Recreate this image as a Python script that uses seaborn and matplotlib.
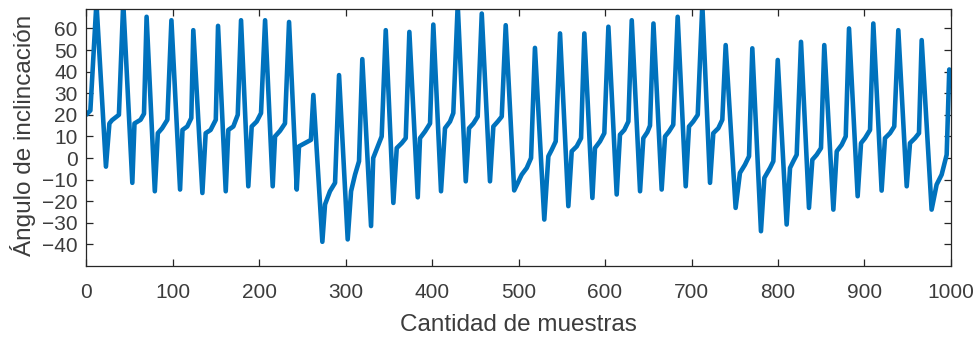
import matplotlib
matplotlib.use("Agg")
import matplotlib.pyplot as plt
import seaborn as sns
import pandas as pd

# Key points (sample index, tilt angle in degrees)
muestras = [
    0, 5, 12, 23, 27, 30, 38, 43, 53.5, 56, 63, 67, 70, 79.5, 83, 88, 94, 98.7,
    108.7, 111.5, 117, 121.7, 124, 134.5, 138.3, 144, 150, 152.6, 161.5, 164.5,
    170.3, 175.4, 179.2, 187.6, 191.5, 197.3, 202.3, 207, 215.8, 218.5, 224.3,
    230, 234.7, 243.6, 246.2, 253.2, 260, 262.8, 273.2, 276.3, 282, 287.9,
    292.5, 302.5, 306.4, 311, 315.6, 319.4, 329.5, 332, 338, 341.8, 346.5,
    355.3, 359.2, 365, 369.6, 373.8, 383.5, 386.1, 391.9, 397.7, 401.5, 410.4,
    415, 420.8, 424.6, 429.7, 439, 442.8, 447.8, 452.8, 457.5, 467, 470.9, 476,
    480.6, 485.2, 495, 503.7, 509.5, 514.5, 519, 529.8, 534.5, 538.4, 543, 548,
    557.6, 561.5, 567.3, 572.3, 576.1, 585.4, 588.4, 594.2, 599.2, 603.9,
    613.5, 617.3, 622.3, 627, 630.9, 640.5, 644.3, 649, 652, 656, 665.5, 669.4,
    674, 678.9, 684, 693.3, 697.1, 702, 707.2, 712.5, 721.4, 725.2, 731, 735.6,
    739.5, 751, 756, 761.8, 766.5, 770.3, 780.3, 784.2, 790.8, 794.6, 799.7,
    810, 813.9, 817.7, 821.6, 826.6, 835.8, 839.7, 844.7, 849.7, 853.5, 864,
    867.9, 873.6, 878.3, 882.1, 892.1, 896, 900.6, 906.4, 910.2, 919.8, 923.7,
    929.5, 934.4, 939.1, 948.8, 952.6, 958.4, 963, 966.1, 977.6, 983.4, 989.2,
    995, 998, 1000,
]
angulo = [
    20, 22, 72, -4, 16, 17.5, 20, 72, -11.5, 16, 17.7, 20.5, 65.4, -15.4, 11.5,
    13.8, 17.7, 63.8, -14.6, 13, 14.6, 18.5, 59.2, -16.2, 11.5, 13, 17.7, 61.2,
    -15.4, 13, 14.6, 20, 63.8, -13.1, 14.6, 16.9, 20.8, 63.8, -13.1, 10, 12.6,
    16, 63, -14.6, 5.4, 6.9, 8.4, 29.2, -38.8, -21.5, -15.4, -11.5, 38.4,
    -37.7, -15.4, -7.7, -1.5, 45.8, -31.5, 0, 6.1, 10, 59.2, -20.8, 4.6, 6.9,
    9.2, 58.4, -18.2, 9.2, 12.3, 16, 61.8, -15.4, 13.8, 16.9, 20.8, 71, -10.8,
    13.8, 16, 19.2, 66.9, -10.8, 14.6, 16.9, 19.2, 61.5, -15, -7.7, -4.6, 0,
    51, -28.5, 0.8, 3.8, 7.7, 57.7, -22.3, 3.1, 5.4, 9.2, 57.7, -18.5, 4.6,
    7.7, 11.5, 60.8, -16.9, 10.8, 13, 16.9, 63.8, -15.4, 9.2, 12, 15, 62.3,
    -14.6, 10, 12.3, 15.4, 65.4, -13.1, 14.6, 16.9, 20, 71, -11.5, 11.5, 13.8,
    17.7, 52.3, -23.1, -6.9, -3.1, 0.8, 50.8, -33.9, -9.2, -4.6, -1.5, 45.4,
    -30.8, -4.6, -1.5, 1.5, 53.8, -23.1, -0.8, 1.5, 4.6, 52.3, -23.9, 3.1,
    6.1, 10, 60, -17.7, 6.9, 9.2, 13, 62.3, -15.1, 9.2, 11.5, 14.6, 59.2,
    -13.1, 6.9, 9.2, 11.5, 54.6, -23.9, -12.3, -7.7, 1.5, 41, 36,
]

x_ticks = [0, 100, 200, 300, 400, 500, 600, 700, 800, 900, 1000]
y_ticks = [-40, -30, -20, -10, 0, 10, 20, 30, 40, 50, 60]
x_label = "Cantidad de muestras"
y_label = "Ángulo de inclincación"

sns.set_style("ticks")
plt.rcParams["font.family"] = ["Liberation Sans", "DejaVu Sans"]
text_color = "#3c3c3c"
edge_color = "#262626"
plt.rcParams.update({
    "xtick.direction": "in",
    "ytick.direction": "in",
    "xtick.top": True,
    "ytick.right": True,
    "xtick.color": edge_color,
    "ytick.color": edge_color,
    "xtick.labelcolor": text_color,
    "ytick.labelcolor": text_color,
    "axes.edgecolor": edge_color,
    "axes.labelcolor": text_color,
})

df = pd.DataFrame({"muestra": muestras, "angulo": angulo})

fig = plt.figure(figsize=(9.8, 3.37), dpi=100)
ax = fig.add_axes([0.0878, 0.2107, 0.8826, 0.7626])
sns.lineplot(data=df, x="muestra", y="angulo", ax=ax, color="#0072BD",
             linewidth=3.3, sort=False)

ax.set_xlim(0, 1000)
ax.set_ylim(-50, 69)
ax.set_xticks(x_ticks)
ax.set_yticks(y_ticks)
ax.tick_params(axis="both", which="major", length=5, width=0.9,
               labelsize=15, top=True, right=True,
               labeltop=False, labelright=False)
ax.tick_params(axis="x", pad=12)
ax.tick_params(axis="y", pad=6)
ax.set_xlabel(x_label, fontsize=17.5, labelpad=9)
ax.set_ylabel(y_label, fontsize=17.5)
ax.yaxis.set_label_coords(-0.058, 0.51)
for s in ax.spines.values():
    s.set_visible(True)
    s.set_linewidth(0.9)

fig.savefig("out.png", dpi=100, facecolor="white")
